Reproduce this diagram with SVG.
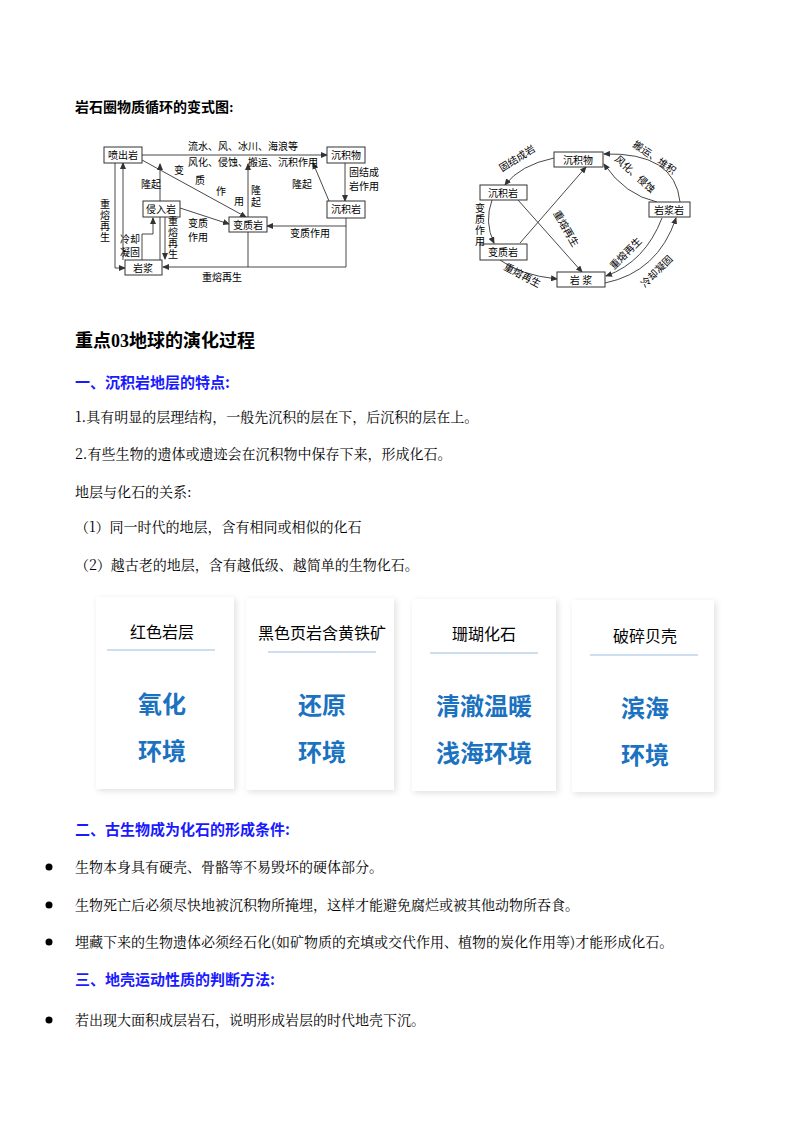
<svg xmlns="http://www.w3.org/2000/svg" width="800" height="1132" viewBox="0 0 800 1132">
<style>
text{font-family:"Liberation Serif","Noto Sans CJK SC",serif;fill:#000}
.b{font-weight:bold}
.d{font-size:10px}
.bx{fill:#fff;stroke:#333;stroke-width:1}
.ln{fill:none;stroke:#333;stroke-width:0.9;marker-end:url(#a)}
.h{font-family:"Noto Sans CJK SC",sans-serif;font-weight:bold;fill:#1a1aff;font-size:15px}
.p{font-size:14px;font-family:"Noto Serif CJK SC","Noto Sans CJK SC",serif}
.card{fill:#fff;filter:url(#sh)}
.ct{font-family:"Noto Sans CJK SC",sans-serif;font-size:16px;text-anchor:middle}
.cb{font-family:"Noto Sans CJK SC",sans-serif;font-size:24px;font-weight:bold;fill:#1a72c0;text-anchor:middle}
.sep{stroke:#9dbde0;stroke-width:1.2}
</style>
<defs>
<marker id="a" markerWidth="7" markerHeight="6" refX="6" refY="3" orient="auto" markerUnits="userSpaceOnUse"><path d="M0,0 L7,3 L0,6 z" fill="#333"/></marker>
<filter id="sh" x="-10%" y="-10%" width="120%" height="120%"><feDropShadow dx="2" dy="2" stdDeviation="3" flood-color="#000" flood-opacity="0.12"/></filter>
</defs>
<rect width="800" height="1132" fill="#fff"/>
<text x="75" y="112" class="b" style="font-size:14px">岩石圈物质循环的变式图:</text>

<g id="connectors">
<path class="ln" d="M142,155 H327"/>
<path class="ln" d="M142,160 L246,217"/>
<path class="ln" d="M160,260 V164"/>
<path class="ln" d="M165,217 V259"/>
<path class="ln" d="M123,260 V163"/>
<path class="ln" d="M142,260 V234 H153 V218"/>
<path class="ln" d="M115,163 V268 H125"/>
<path class="ln" d="M180,208 L229,224"/>
<path class="ln" d="M248,267 V164"/>
<path class="ln" d="M346,218 V267 H163"/>
<path class="ln" d="M346,226 H267"/>
<path class="ln" d="M345,163 V201"/>
<path class="ln" d="M329,201 L313,163"/>
<path class="ln" d="M554,158 Q520,165 505,185"/>
<path class="ln" d="M492,200 Q484,222 494,243"/>
<path class="ln" d="M500,260 Q520,275 557,279"/>
<path class="ln" d="M605,283 Q658,272 676,218"/>
<path class="ln" d="M662,218 Q645,262 606,276"/>
<path class="ln" d="M680,202 Q675,152 604,154"/>
<path class="ln" d="M657,202 Q625,195 604,164"/>
<path class="ln" d="M520,243 L586,167"/>
<path class="ln" d="M518,200 L582,272"/>
</g>

<g id="n-penchu"><rect class="bx" x="104" y="147" width="38" height="16"/><text class="d" x="123" y="159" text-anchor="middle">喷出岩</text></g>
<g id="n-chenjiwu"><rect class="bx" x="327" y="147" width="38" height="16"/><text class="d" x="346" y="159" text-anchor="middle">沉积物</text></g>
<g id="n-chenjiyan"><rect class="bx" x="327" y="201" width="38" height="17"/><text class="d" x="346" y="213" text-anchor="middle">沉积岩</text></g>
<g id="n-qinru"><rect class="bx" x="143" y="201" width="37" height="16"/><text class="d" x="161" y="213" text-anchor="middle">侵入岩</text></g>
<g id="n-bianzhi"><rect class="bx" x="229" y="217" width="38" height="15"/><text class="d" x="248" y="229" text-anchor="middle">变质岩</text></g>
<g id="n-yanjiang"><rect class="bx" x="125" y="260" width="37" height="15"/><text class="d" x="143" y="272" text-anchor="middle">岩浆</text></g>

<g id="labels-left" class="d">
<text x="188" y="150">流水、风、冰川、海浪等</text>
<text x="188" y="166">风化、侵蚀、搬运、沉积作用</text>
<text x="174" y="174">变</text><text x="195" y="184">质</text><text x="216" y="195">作</text><text x="234" y="205">用</text>
<text x="141" y="188">隆起</text>
<text x="251" y="194">隆</text><text x="251" y="206">起</text>
<text x="292" y="188">隆起</text>
<text x="349" y="176">固结成</text><text x="349" y="190">岩作用</text>
<text x="188" y="227">变质</text><text x="188" y="241">作用</text>
<text x="290" y="237">变质作用</text>
<text x="202" y="281">重熔再生</text>
<text x="100" y="208">重</text><text x="100" y="219">熔</text><text x="100" y="230">再</text><text x="100" y="241">生</text>
<text x="120" y="243">冷却</text><text x="120" y="256">凝固</text>
<text x="168" y="225">重</text><text x="168" y="236">熔</text><text x="168" y="247">再</text><text x="168" y="258">生</text>
</g>

<g id="r-chenjiwu"><rect class="bx" x="554" y="152" width="49" height="15"/><text class="d" x="578" y="164" text-anchor="middle">沉积物</text></g>
<g id="r-chenjiyan"><rect class="bx" x="480" y="185" width="47" height="15"/><text class="d" x="503" y="197" text-anchor="middle">沉积岩</text></g>
<g id="r-yanjiangyan"><rect class="bx" x="649" y="202" width="41" height="15"/><text class="d" x="669" y="214" text-anchor="middle">岩浆岩</text></g>
<g id="r-bianzhi"><rect class="bx" x="480" y="244" width="47" height="16"/><text class="d" x="503" y="256" text-anchor="middle">变质岩</text></g>
<g id="r-yanjiang"><rect class="bx" x="557" y="272" width="48" height="15"/><text class="d" x="581" y="284" text-anchor="middle">岩 浆</text></g>

<g id="labels-right" class="d">
<text transform="translate(502,172) rotate(-32)">固结成岩</text>
<text x="475" y="212">变</text><text x="475" y="223">质</text><text x="475" y="234">作</text><text x="475" y="245">用</text>
<text transform="translate(503,269) rotate(28)">重熔再生</text>
<text transform="translate(553,213) rotate(60)">重熔再生</text>
<text transform="translate(632,146) rotate(35)">搬运、堆积</text>
<text transform="translate(614,160) rotate(42)">风化、侵蚀</text>
<text transform="translate(614,270) rotate(-45)">重熔再生</text>
<text transform="translate(645,288) rotate(-45)">冷却凝固</text>
</g>

<text x="75" y="347" class="b" style="font-size:18px">重点03地球的演化过程</text>
<text x="75" y="388" class="h">一、沉积岩地层的特点:</text>
<text x="75" y="422" class="p">1.具有明显的层理结构，一般先沉积的层在下，后沉积的层在上。</text>
<text x="75" y="459" class="p">2.有些生物的遗体或遗迹会在沉积物中保存下来，形成化石。</text>
<text x="75" y="497" class="p">地层与化石的关系:</text>
<text x="75" y="532" class="p">（1）同一时代的地层，含有相同或相似的化石</text>
<text x="75" y="570" class="p">（2）越古老的地层，含有越低级、越简单的生物化石。</text>

<g id="card1"><rect class="card" x="96" y="597" width="138" height="192"/><text class="ct" x="162" y="638">红色岩层</text><line class="sep" x1="107" y1="650" x2="215" y2="650"/><text class="cb" x="162" y="713">氧化</text><text class="cb" x="162" y="760">环境</text></g>
<g id="card2"><rect class="card" x="246" y="598" width="148" height="192"/><text class="ct" x="322" y="639">黑色页岩含黄铁矿</text><line class="sep" x1="268" y1="652" x2="376" y2="652"/><text class="cb" x="322" y="714">还原</text><text class="cb" x="322" y="761">环境</text></g>
<g id="card3"><rect class="card" x="412" y="599" width="144" height="192"/><text class="ct" x="484" y="640">珊瑚化石</text><line class="sep" x1="430" y1="653" x2="538" y2="653"/><text class="cb" x="484" y="715">清澈温暖</text><text class="cb" x="484" y="762">浅海环境</text></g>
<g id="card4"><rect class="card" x="572" y="600" width="142" height="192"/><text class="ct" x="645" y="642">破碎贝壳</text><line class="sep" x1="590" y1="655" x2="698" y2="655"/><text class="cb" x="645" y="717">滨海</text><text class="cb" x="645" y="764">环境</text></g>

<text x="75" y="835" class="h">二、古生物成为化石的形成条件:</text>
<circle cx="49" cy="867" r="3.5" fill="#000"/><text x="75" y="872" class="p">生物本身具有硬壳、骨骼等不易毁坏的硬体部分。</text>
<circle cx="49" cy="905" r="3.5" fill="#000"/><text x="75" y="910" class="p">生物死亡后必须尽快地被沉积物所掩埋，这样才能避免腐烂或被其他动物所吞食。</text>
<circle cx="49" cy="942" r="3.5" fill="#000"/><text x="75" y="947" class="p">埋藏下来的生物遗体必须经石化(如矿物质的充填或交代作用、植物的炭化作用等)才能形成化石。</text>
<text x="75" y="985" class="h">三、地壳运动性质的判断方法:</text>
<circle cx="49" cy="1020" r="3.5" fill="#000"/><text x="75" y="1025" class="p">若出现大面积成层岩石，说明形成岩层的时代地壳下沉。</text>
</svg>
